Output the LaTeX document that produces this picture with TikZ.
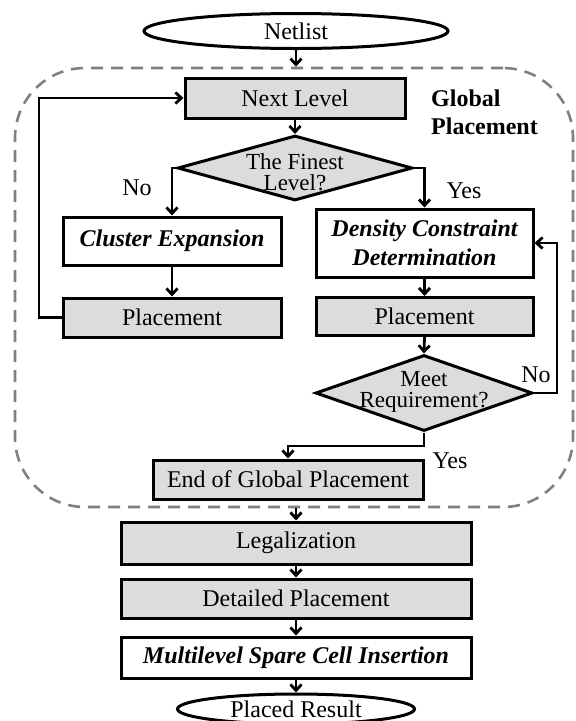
\documentclass[tikz,border=0pt]{standalone}
\usepackage{fontspec}
\setmainfont{Liberation Serif}
\usetikzlibrary{shapes.geometric,arrows.meta}
\definecolor{boxgray}{HTML}{DCDCDC}
\definecolor{dashgray}{HTML}{808080}
\begin{document}
\begin{tikzpicture}[x=1pt,y=-1pt,
  every node/.style={font=\fontsize{24}{29}\selectfont},
  boxst/.style={draw, line width=3pt, inner sep=0pt, align=center},
  gboxst/.style={boxst, fill=boxgray},
  ovalst/.style={draw, ellipse, line width=3pt, inner sep=0pt},
  diast/.style={draw, diamond, line width=3pt, fill=boxgray, inner sep=0pt},
  diatext/.style={align=center, inner sep=0pt, font=\fontsize{23}{21.2}\selectfont},
  bi/.style={font=\fontsize{24}{29}\selectfont\bfseries\itshape},
  arr/.style={line width=2.8pt, -{Straight Barb[length=6pt,width=11pt]}},
  lbl/.style={inner sep=0pt}
]
\useasboundingbox (0,0) rectangle (576,721);

% Global placement region
\node[draw=dashgray, line width=2.6pt, dash pattern=on 12pt off 8pt,
      rounded corners=70pt, minimum width=558pt, minimum height=439pt]
      (gp) at (294,287.5) {};
\node[anchor=west, align=left, inner sep=0pt,
      font=\fontsize{24}{28}\selectfont\bfseries] (gplbl) at (431,112) {Global\\Placement};

\node[ovalst, minimum width=304pt, minimum height=35pt] (net) at (296,31) {Netlist};
\node[gboxst, minimum width=220pt, minimum height=40pt] (next) at (295,98) {Next Level};
\node[diast, minimum width=235pt, minimum height=65pt] (fin) at (295,168) {};
\node[diatext] (fintxt) at (295,172) {The Finest\\Level?};
\node[boxst, bi, minimum width=218pt, minimum height=48pt] (ce) at (172,241) {Cluster Expansion};
\node[gboxst, minimum width=218pt, minimum height=39pt] (pl1) at (172,317.5) {Placement};
\node[boxst, bi, minimum width=217pt, minimum height=68pt] (dcd) at (424.5,243) {Density Constraint\\Determination};
\node[gboxst, minimum width=217pt, minimum height=38pt] (pl2) at (424.5,316.5) {Placement};
\node[diast, minimum width=217pt, minimum height=76pt] (meet) at (424,393) {};
\node[diatext] (meettxt) at (424,392) {Meet\\Requirement?};
\node[gboxst, minimum width=270pt, minimum height=39pt] (egp) at (288,479.5) {End of Global Placement};
\node[gboxst, minimum width=350pt, minimum height=42pt] (leg) at (296,543) {Legalization};
\node[gboxst, minimum width=350pt, minimum height=39pt] (det) at (296,598.5) {Detailed Placement};
\node[boxst, bi, minimum width=350pt, minimum height=41pt] (msci) at (296,657.5) {Multilevel Spare Cell Insertion};
\node[ovalst, minimum width=237pt, minimum height=30pt] (pr) at (296,709) {Placed Result};

% branch labels
\node[lbl] (no1) at (137,188) {No};
\node[lbl] (yes1) at (464,191) {Yes};
\node[lbl] (no2) at (536,375) {No};
\node[lbl] (yes2) at (450,461) {Yes};

% helper coordinates
\coordinate (lp) at (39,0);
\coordinate (rp) at (557,0);
\coordinate (ym) at (0,446);

% connectors
\draw[arr] (net.south) -- (net.south |- gp.north);
\draw[arr] (next.south) -- (fin.north);
\draw[arr] (fin.west) -| (ce.north);
\draw[arr] (fin.east) -| (dcd.north);
\draw[arr] (ce.south) -- (pl1.north);
\draw[arr] (pl1.west) -- (pl1.west -| lp) |- (next.west);
\draw[arr] (dcd.south) -- (pl2.north);
\draw[arr] (pl2.south) -- (meet.north);
\draw[arr] (meet.east) -- (meet.east -| rp) |- (dcd.east);
\draw[arr] (meet.south) -- (meet.south |- ym) -| (egp.north);
\draw[arr] (leg.north |- gp.south) -- (leg.north);
\draw[arr] (leg.south) -- (det.north);
\draw[arr] (det.south) -- (msci.north);
\draw[arr] (msci.south) -- (pr.north);
\end{tikzpicture}
\end{document}
